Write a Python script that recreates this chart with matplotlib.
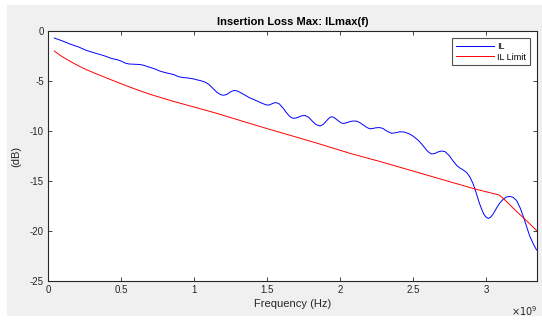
import matplotlib
matplotlib.use("Agg")
import matplotlib.pyplot as plt
from matplotlib.patches import Rectangle
from matplotlib.ticker import FuncFormatter

plt.rcParams['font.family'] = ['Liberation Sans', 'DejaVu Sans']

# Measured insertion loss (frequency in GHz, loss in dB)
il_freq_ghz = [0.043, 0.10, 0.15, 0.21, 0.265, 0.32, 0.368, 0.40, 0.425, 0.45,
               0.47, 0.50, 0.527, 0.555, 0.58, 0.605, 0.63, 0.655, 0.68, 0.705,
               0.733, 0.765, 0.80, 0.83, 0.86, 0.88, 0.904, 0.93, 0.96, 0.98,
               1.0, 1.02, 1.041, 1.065, 1.087, 1.105, 1.12, 1.14, 1.155, 1.175,
               1.19, 1.205, 1.224, 1.24, 1.255, 1.27, 1.281, 1.30, 1.33, 1.36,
               1.384, 1.41, 1.44, 1.47, 1.498, 1.515, 1.535, 1.55, 1.566, 1.585,
               1.61, 1.63, 1.65, 1.665, 1.68, 1.70, 1.72, 1.74, 1.76, 1.785,
               1.81, 1.835, 1.863, 1.885, 1.91, 1.93, 1.943, 1.96, 1.99, 2.01,
               2.027, 2.05, 2.07, 2.09, 2.116, 2.14, 2.16, 2.185, 2.205, 2.225,
               2.245, 2.274, 2.295, 2.32, 2.354, 2.38, 2.41, 2.438, 2.47, 2.50,
               2.534, 2.56, 2.59, 2.61, 2.628, 2.65, 2.67, 2.695, 2.719, 2.745,
               2.77, 2.80, 2.822, 2.845, 2.868, 2.89, 2.91, 2.925, 2.94, 2.955,
               2.97, 2.985, 3.0, 3.016, 3.03, 3.05, 3.073, 3.095, 3.12, 3.14,
               3.164, 3.185, 3.21, 3.235, 3.255, 3.28, 3.30, 3.325, 3.347]
il_db = [-0.7, -1.0, -1.3, -1.6, -1.95, -2.2, -2.4, -2.55, -2.7, -2.8,
         -2.85, -3.0, -3.2, -3.3, -3.32, -3.33, -3.35, -3.43, -3.55, -3.68,
         -3.8, -4.0, -4.15, -4.25, -4.35, -4.48, -4.6, -4.66, -4.7, -4.75,
         -4.8, -4.88, -4.95, -5.05, -5.2, -5.38, -5.6, -5.88, -6.1, -6.3,
         -6.4, -6.42, -6.35, -6.2, -6.05, -5.97, -5.95, -6.02, -6.25, -6.5,
         -6.7, -6.85, -7.05, -7.25, -7.4, -7.4, -7.28, -7.18, -7.17, -7.3,
         -7.7, -8.1, -8.45, -8.65, -8.73, -8.7, -8.58, -8.47, -8.45, -8.62,
         -9.0, -9.35, -9.5, -9.35, -8.95, -8.65, -8.57, -8.65, -9.0, -9.2,
         -9.25, -9.15, -9.05, -9.0, -9.02, -9.2, -9.4, -9.65, -9.78, -9.75,
         -9.68, -9.66, -9.75, -10.0, -10.23, -10.18, -10.08, -10.1, -10.25, -10.5,
         -10.9, -11.3, -11.85, -12.15, -12.3, -12.25, -12.1, -12.0, -12.05, -12.4,
         -12.9, -13.45, -13.7, -13.9, -14.15, -14.6, -15.2, -15.8, -16.5, -17.2,
         -17.8, -18.3, -18.6, -18.75, -18.65, -18.3, -17.7, -17.2, -16.8, -16.6,
         -16.55, -16.62, -16.95, -17.7, -18.5, -19.6, -20.5, -21.3, -21.9]

# Specification limit
lim_freq_ghz = [0.043, 0.08, 0.116, 0.16, 0.207, 0.26, 0.322, 0.38, 0.436, 0.52,
                0.596, 0.699, 0.85, 1.0, 1.155, 1.35, 1.521, 1.612, 1.85, 2.068,
                2.274, 2.5, 2.7, 2.925, 3.05, 3.091, 3.118, 3.2, 3.28, 3.347]
lim_db = [-2.0, -2.4, -2.73, -3.1, -3.47, -3.85, -4.23, -4.57, -4.9, -5.38,
          -5.8, -6.33, -7.0, -7.6, -8.23, -9.1, -9.85, -10.23, -11.25, -12.23,
          -13.05, -14.0, -14.85, -15.8, -16.25, -16.4, -16.73, -17.9, -19.0, -19.95]

x_ticks = [0, 0.5, 1, 1.5, 2, 2.5, 3]
y_ticks = [0, -5, -10, -15, -20, -25]

W, H = 542, 321
fig = plt.figure(figsize=(W / 100, H / 100), dpi=100, facecolor='white')
fig.patches.append(Rectangle((7 / W, 5 / H), (W - 7) / W, (316 - 5) / H,
                             transform=fig.transFigure, facecolor='#f0f0f0',
                             edgecolor='none', zorder=-10))

ax = fig.add_axes([48 / W, (H - 281) / H, (537 - 48) / W, 250 / H])
ax.set_zorder(1)
ax.set_facecolor('white')

f_il = [v * 1e9 for v in il_freq_ghz]
f_lim = [v * 1e9 for v in lim_freq_ghz]
ax.plot(f_il, il_db, color=(0, 0, 1), lw=0.7, label='IL')
ax.plot(f_lim, lim_db, color=(1, 0, 0), lw=0.7, label='IL Limit')

ax.set_xlim(0, 3.35e9)
ax.set_ylim(-25, 0)
ax.set_xticks([v * 1e9 for v in x_ticks])
ax.xaxis.set_major_formatter(FuncFormatter(lambda v, p: f"{v / 1e9:g}"))
ax.set_yticks(y_ticks)
ax.yaxis.set_major_formatter(FuncFormatter(lambda v, p: f"{v:g}"))

tick_c = '#262626'
for s in ax.spines.values():
    s.set_color('#262626')
    s.set_linewidth(0.8)
ax.tick_params(direction='in', length=3, width=0.6, colors=tick_c,
               labelsize=7, top=True, right=True, pad=3)

ax.set_title('Insertion Loss Max: ILmax(f)', fontsize=8, fontweight='bold',
             color='black', pad=4)
ax.set_xlabel('Frequency (Hz)', fontsize=8, color=tick_c, labelpad=3)
ax.set_ylabel('(dB)', fontsize=8, color=tick_c, labelpad=6)

fig.text(537 / W, (H - 311) / H, r'$\times10^{9}$', ha='right', va='center',
         fontsize=7, color=tick_c)

leg = ax.legend(loc='upper right', fontsize=6.5, frameon=True, fancybox=False,
                edgecolor='#262626', borderpad=0.4, handlelength=4.2,
                handletextpad=0.4, labelspacing=0.2, borderaxespad=0.8)
leg.get_frame().set_linewidth(0.8)

fig.savefig('out.png', dpi=100, facecolor=fig.get_facecolor())
